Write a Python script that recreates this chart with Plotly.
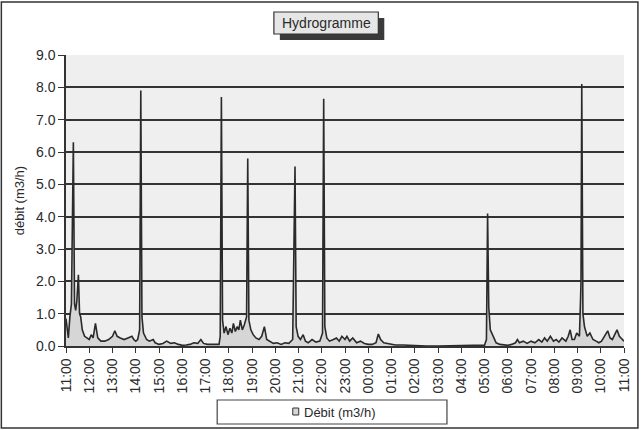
import plotly.graph_objects as go
from datetime import datetime, timedelta

# Times (HH:MM) starting at 11:00 on day 1, rolling over midnight
times = [
    "11:00","11:03","11:06","11:10","11:14","11:19","11:22","11:25","11:28","11:32","11:35","11:38",
    "11:42","11:48","11:55","12:00","12:05","12:10","12:16","12:22","12:30","12:40","12:50","13:00",
    "13:06","13:12","13:20","13:30","13:40","13:50","13:55","14:00","14:05","14:10","14:13","14:16",
    "14:20","14:28","14:35","14:45","14:50","15:00","15:10","15:20","15:30","15:40","15:50","16:00",
    "16:10","16:20","16:30","16:40","16:48","16:55","17:05","17:15","17:25","17:35","17:38","17:41",
    "17:44","17:48","17:53","17:58","18:03","18:08","18:12","18:17","18:22","18:26","18:30","18:35",
    "18:40","18:46","18:49","18:52","18:57","19:03","19:10","19:18","19:25","19:32","19:38","19:45",
    "19:55","20:05","20:15","20:25","20:35","20:45","20:51","20:54","20:59","21:05","21:12","21:18",
    "21:25","21:35","21:45","21:55","22:02","22:05","22:08","22:13","22:20","22:30","22:38","22:45",
    "22:52","23:00","23:05","23:12","23:20","23:30","23:40","23:50","00:00","00:10","00:20","00:26",
    "00:32","00:40","00:50","01:00","01:10","01:30","01:45","02:00","02:30","03:00","03:30","04:00",
    "04:10","04:30","05:00","05:05","05:08","05:11","05:15","05:22","05:30","05:40","05:50","06:00",
    "06:10","06:20","06:25","06:30","06:40","06:50","07:00","07:10","07:20","07:28","07:35","07:42",
    "07:50","07:58","08:05","08:12","08:20","08:30","08:36","08:41","08:46","08:52","08:58","09:05",
    "09:08","09:09","09:11","09:14","09:18","09:25","09:32","09:40","09:48","09:55","10:02","10:10",
    "10:18","10:24","10:30","10:36","10:42","10:48","10:55","11:00",
]
debit = [
    0.85,0.6,0.25,0.9,1.3,6.3,1.3,1.1,1.4,2.2,1.0,0.9,
    0.5,0.3,0.25,0.2,0.35,0.25,0.7,0.25,0.15,0.15,0.2,0.3,
    0.47,0.3,0.25,0.2,0.25,0.3,0.2,0.15,0.2,0.5,7.9,0.9,
    0.4,0.2,0.15,0.2,0.1,0.05,0.08,0.15,0.08,0.1,0.05,0.02,
    0.03,0.05,0.1,0.08,0.2,0.08,0.05,0.05,0.05,0.05,0.3,7.7,
    0.8,0.4,0.6,0.35,0.55,0.4,0.7,0.45,0.6,0.5,0.8,0.5,
    0.65,0.9,5.8,0.8,0.5,0.35,0.25,0.2,0.3,0.6,0.2,0.15,
    0.08,0.1,0.05,0.1,0.08,0.2,5.55,0.6,0.3,0.2,0.35,0.15,
    0.1,0.2,0.12,0.15,0.4,7.65,0.6,0.25,0.15,0.2,0.25,0.15,
    0.3,0.2,0.3,0.15,0.25,0.1,0.15,0.08,0.05,0.05,0.1,0.37,
    0.2,0.1,0.08,0.05,0.03,0.03,0.02,0.01,0.0,0.0,0.01,0.02,
    0.03,0.02,0.02,0.2,4.1,1.2,0.5,0.3,0.1,0.05,0.03,0.02,
    0.05,0.1,0.2,0.1,0.15,0.08,0.15,0.1,0.2,0.12,0.25,0.15,
    0.3,0.15,0.2,0.12,0.25,0.15,0.3,0.5,0.2,0.2,0.4,0.3,
    1.5,2.0,8.1,1.0,0.6,0.3,0.4,0.2,0.15,0.1,0.15,0.3,
    0.47,0.25,0.2,0.35,0.5,0.3,0.2,0.15,
]
y_ticks = [0, 1, 2, 3, 4, 5, 6, 7, 8, 9]

# convert HH:MM to datetimes with day rollover
base = datetime(2000, 1, 1, 11, 0)
xs = []
for i, t in enumerate(times):
    h, m = map(int, t.split(":"))
    d = datetime(2000, 1, 1, h, m)
    if d < base or (i > 0 and d <= base and i == len(times) - 1):
        d += timedelta(days=1)
    xs.append(d)

W, H = 644, 430
ml, mr, mt, mb = 66, 17, 55, 84
pw, ph = W - ml - mr, H - mt - mb

def px(x):
    return (x - ml) / pw

def py(y):
    return (H - mb - y) / ph

FONT = "Liberation Sans, Arial, sans-serif"
INK = "#2a2a2a"

fig = go.Figure()
fig.add_trace(go.Scatter(
    x=xs, y=debit, mode="lines", name="Débit (m3/h)",
    line=dict(color=INK, width=1.6),
    fill="tozeroy", fillcolor="#d6d6d6", showlegend=False,
))

shapes = []
# outer chart border
shapes.append(dict(type="rect", xref="paper", yref="paper",
                   x0=px(1), x1=px(641), y0=py(428), y1=py(2),
                   line=dict(color="#333", width=1.5), fillcolor="rgba(0,0,0,0)", layer="below"))
# title shadow + box
shapes.append(dict(type="rect", xref="paper", yref="paper",
                   x0=px(281), x1=px(386), y0=py(40), y1=py(18),
                   line=dict(width=0), fillcolor="#3a3a3a", layer="above"))
shapes.append(dict(type="rect", xref="paper", yref="paper",
                   x0=px(275), x1=px(380), y0=py(34), y1=py(12),
                   line=dict(color="#333", width=1.2), fillcolor="#e6e6e6", layer="above"))
# legend box
shapes.append(dict(type="rect", xref="paper", yref="paper",
                   x0=px(218), x1=px(449), y0=py(424), y1=py(400),
                   line=dict(color="#444", width=1.2), fillcolor="white", layer="above"))
# legend icon
shapes.append(dict(type="rect", xref="paper", yref="paper",
                   x0=px(294), x1=px(300), y0=py(415), y1=py(408),
                   line=dict(color="#333", width=1), fillcolor="#d6d6d6", layer="above"))

fig.update_layout(
    width=W, height=H,
    margin=dict(l=ml, r=mr, t=mt, b=mb, pad=0),
    paper_bgcolor="white", plot_bgcolor="#efefef",
    font=dict(family=FONT, size=13, color=INK),
    shapes=shapes,
    showlegend=False,
    annotations=[
        dict(text="Hydrogramme", xref="paper", yref="paper", x=px(327.5), y=py(23),
             xanchor="center", yanchor="middle", showarrow=False,
             font=dict(family=FONT, size=14, color=INK)),
        dict(text="Débit (m3/h)", xref="paper", yref="paper", x=px(303), y=py(412),
             xanchor="left", yanchor="middle", showarrow=False,
             font=dict(family=FONT, size=13, color=INK)),
    ],
)
fig.update_xaxes(
    type="date",
    range=[datetime(2000, 1, 1, 11, 0), datetime(2000, 1, 2, 11, 0)],
    tick0=datetime(2000, 1, 1, 11, 0), dtick=3600000, tickformat="%H:%M",
    tickangle=-90, ticks="outside", ticklen=5, tickcolor="#333",
    showgrid=False, showline=True, linecolor="#333", linewidth=1.5,
    zeroline=False, tickfont=dict(size=14, color=INK),
)
fig.update_yaxes(
    range=[0, 9], tickvals=y_ticks, tickformat=".1f",
    ticks="outside", ticklen=6, tickcolor="#333",
    showgrid=True, gridcolor="#333333", gridwidth=1.6,
    showline=True, linecolor="#333", linewidth=1.5, zeroline=False,
    title=dict(text="débit (m3/h)", standoff=8, font=dict(size=13, color=INK)),
    tickfont=dict(size=14, color=INK),
)

fig.write_html("out.html")
